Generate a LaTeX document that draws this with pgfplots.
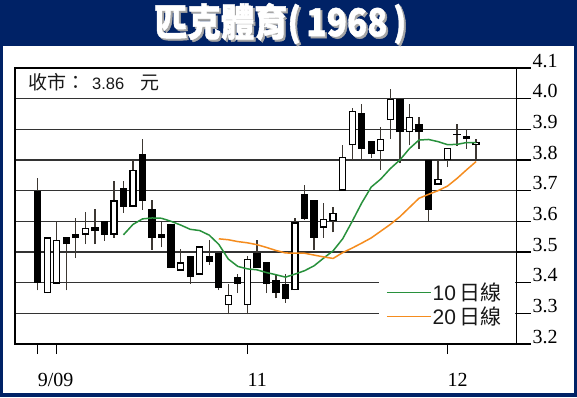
\documentclass[border=0pt]{standalone}
\usepackage{fontspec}
\setmainfont{Liberation Serif}
\setsansfont{Liberation Sans}
\newfontfamily\cjk{Noto Sans CJK TC}
\usepackage{pgfplots}
\pgfplotsset{compat=1.18}
\usepackage{pgfplotstable}
\definecolor{navy}{RGB}{0,34,102}
\definecolor{ma10}{RGB}{40,145,60}
\definecolor{ma20}{RGB}{245,140,30}
\definecolor{wick}{RGB}{60,55,50}

% down (black) candles: index, open, high, low, close
\pgfplotstableread{
i o h l c
0 3.700 3.740 3.375 3.400
3 3.550 3.550 3.375 3.525
4 3.560 3.610 3.480 3.545
6 3.580 3.640 3.526 3.567
7 3.600 3.600 3.537 3.557
9 3.710 3.730 3.628 3.648
11 3.821 3.870 3.638 3.666
12 3.640 3.670 3.507 3.546
13 3.559 3.597 3.515 3.546
14 3.590 3.590 3.448 3.448
16 3.487 3.487 3.396 3.417
18 3.487 3.540 3.458 3.469
19 3.498 3.498 3.376 3.384
21 3.419 3.428 3.366 3.397
23 3.498 3.540 3.448 3.448
24 3.469 3.469 3.366 3.397
25 3.409 3.428 3.349 3.366
26 3.397 3.428 3.335 3.346
28 3.690 3.720 3.605 3.608
29 3.670 3.670 3.507 3.546
34 3.952 3.982 3.800 3.837
35 3.861 3.861 3.808 3.819
38 4.000 4.000 3.790 3.890
40 3.919 3.941 3.837 3.890
41 3.800 3.800 3.600 3.638
44 3.885 3.919 3.846 3.881
45 3.878 3.897 3.837 3.870
}\down

% up (white) candles
\pgfplotstableread{
i o h l c
1 3.366 3.550 3.366 3.548
2 3.397 3.600 3.397 3.539
5 3.557 3.630 3.526 3.579
8 3.557 3.730 3.546 3.668
10 3.648 3.800 3.648 3.769
15 3.439 3.510 3.439 3.466
17 3.426 3.519 3.426 3.519
20 3.327 3.397 3.297 3.360
22 3.327 3.488 3.297 3.478
27 3.376 3.610 3.376 3.597
30 3.579 3.661 3.546 3.608
31 3.600 3.648 3.564 3.628
32 3.700 3.850 3.700 3.810
33 3.848 3.971 3.800 3.960
36 3.828 3.908 3.769 3.870
37 3.930 4.030 3.870 4.000
39 3.890 3.982 3.848 3.941
42 3.719 3.800 3.719 3.739
43 3.800 3.839 3.777 3.839
46 3.848 3.870 3.800 3.859
}\up

\newcommand\titletext{\scalebox{0.98}[1.13]{\cjk\bfseries\addfontfeature{FakeBold=1.2}\fontsize{34}{34}\selectfont 匹克體育(\,1968\,)}}

\begin{document}
\begin{tikzpicture}[x=1pt,y=1pt]
\useasboundingbox (0,0) rectangle (577,397);
\fill[navy] (0,0) rectangle (577,397);
\fill[white] (3,4) rectangle (574,351);
\node[anchor=west, inner sep=0pt, text=black!35] at (156,371.5) {\titletext};
\node[anchor=west, inner sep=0pt, text=white] at (154,373.5) {\titletext};
\node[anchor=base west, inner sep=0pt, text=black!90] at (28,307.7)
  {{\cjk\fontsize{19}{19}\selectfont 收市：}\hspace{7pt}{\sffamily\fontsize{16.5}{16.5}\selectfont 3.86}\hspace{16pt}{\cjk\fontsize{19}{19}\selectfont 元}};
\begin{axis}[
  at={(15pt,53pt)}, anchor=south west, scale only axis,
  width=501.5pt, height=276pt,
  xmin=-2.38, xmax=50.24, ymin=3.2, ymax=4.1,
  axis line style={black, line width=1.5pt},
  ytick={3.2,3.3,3.4,3.5,3.6,3.7,3.8,3.9,4.0,4.1},
  ytick pos=right, yticklabel pos=right,
  xtick={0,2,22,43}, xticklabels={9/09,,11,12}, xtick pos=bottom,
  tick align=outside, major tick length=14pt,
  tick style={black, line width=1.5pt},
  xtick style={/pgfplots/major tick length=10pt},
  ymajorgrids, grid style={black!80, line width=1.5pt},
  yticklabel style={/pgf/number format/fixed, /pgf/number format/fixed zerofill,
    /pgf/number format/precision=1, /pgf/number format/assume math mode=true,
    anchor=base west, inner sep=0pt, xshift=2pt, yshift=1pt},
  ticklabel style={font=\fontsize{20}{20}\selectfont, text=black},
  xticklabel style={anchor=base west, inner sep=0pt, yshift=-28pt},
  legend style={draw=none, fill=none, at={(axis cs:36.55,3.40)}, anchor=north west,
    font=\sffamily\fontsize{21}{21}\selectfont, text=black!90, inner sep=0pt,
    row sep=5pt, column sep=1pt, nodes={inner sep=0pt}},
  legend cell align=left,
  legend image code/.code={\draw[#1] (0pt,0pt) -- (44pt,0pt);},
  candle/.style={forget plot, draw=none, mark=none, error bars/.cd, y dir=plus, y explicit, error mark=none},
]
\fill[white] (axis cs:35.8,3.441) rectangle (axis cs:50.1,3.246);
% wicks
\addplot[candle, error bar style={line width=1.3pt, draw=wick}]
  table[x=i, y=l, y error plus expr=\thisrow{h}-\thisrow{l}] {\down};
\addplot[candle, error bar style={line width=1.3pt, draw=wick}]
  table[x=i, y=l, y error plus expr=\thisrow{h}-\thisrow{l}] {\up};
% bodies
\addplot[candle, error bar style={line width=7.3pt, draw=black}]
  table[x=i, y=c, y error plus expr=\thisrow{o}-\thisrow{c}] {\down};
\addplot[candle, error bar style={line width=7.3pt, draw=black}]
  table[x=i, y=o, y error plus expr=\thisrow{c}-\thisrow{o}] {\up};
\addplot[candle, error bar style={line width=4.6pt, draw=white}]
  table[x=i, y expr=\thisrow{o}+0.0045, y error plus expr=\thisrow{c}-\thisrow{o}-0.009] {\up};
% moving averages
\addplot[ma10, line width=1.5pt] coordinates {
(9,3.556)(10,3.590)(11,3.608)(12,3.611)(13,3.610)(14,3.600)(15,3.588)(16,3.574)(17,3.570)
(18,3.555)(19,3.525)(20,3.477)(21,3.453)(22,3.445)(23,3.442)(24,3.433)(25,3.426)(26,3.418)
(27,3.428)(28,3.439)(29,3.455)(30,3.480)(31,3.504)(32,3.543)(33,3.600)(34,3.660)(35,3.712)
(36,3.738)(37,3.772)(38,3.800)(39,3.837)(40,3.865)(41,3.867)(42,3.860)(43,3.850)(44,3.851)
(45,3.857)(46,3.857)};
\addlegendentry{10\hspace{3pt}{\cjk 日線}}
\addplot[ma20, line width=1.5pt] coordinates {
(19,3.543)(20,3.540)(21,3.534)(22,3.530)(23,3.524)(24,3.515)(25,3.505)(26,3.497)(27,3.496)
(28,3.496)(29,3.490)(30,3.484)(31,3.479)(32,3.498)(33,3.513)(34,3.529)(35,3.546)(36,3.568)
(37,3.590)(38,3.615)(39,3.645)(40,3.675)(41,3.688)(42,3.700)(43,3.715)(44,3.740)(45,3.768)
(46,3.795)};
\addlegendentry{20\hspace{3pt}{\cjk 日線}}
\end{axis}
\end{tikzpicture}
\end{document}
